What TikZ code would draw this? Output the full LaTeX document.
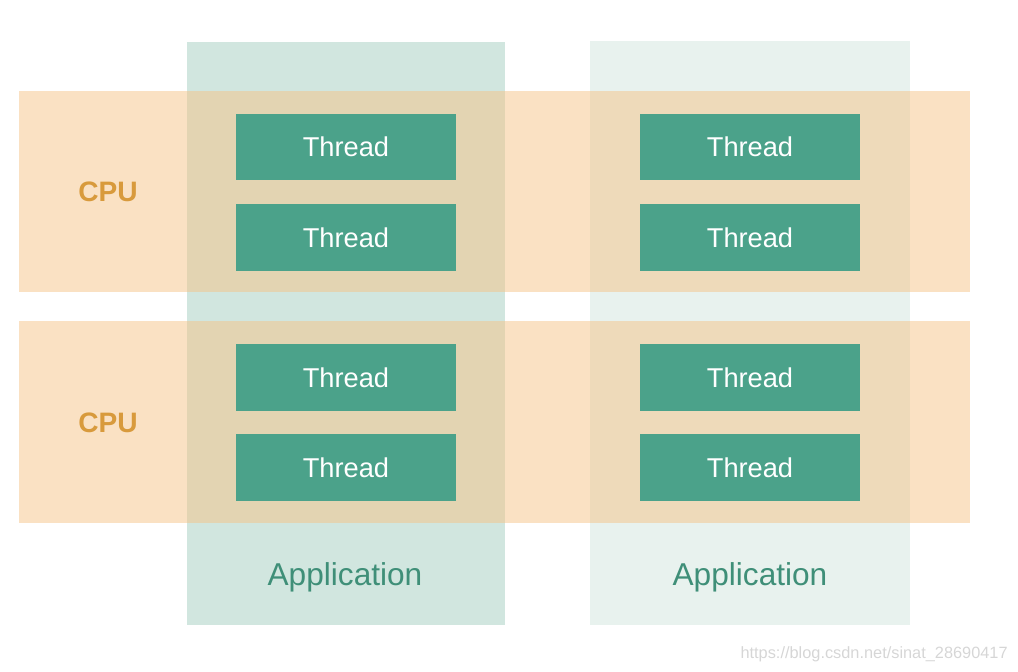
\documentclass[tikz,border=0pt]{standalone}
\usepackage{fontspec}
\setmainfont{Liberation Sans}
\definecolor{appA}{HTML}{D1E6DF}
\definecolor{appB}{HTML}{E8F2EE}
\definecolor{cpufill}{RGB}{245,195,135}
\definecolor{cputext}{HTML}{D89A3C}
\definecolor{threadfill}{HTML}{4BA28A}
\definecolor{apptext}{HTML}{3F8F78}
\tikzset{
  thread/.style={fill=threadfill,text=white,minimum width=4.4cm,minimum height=1.34cm,
    inner sep=0pt,font=\fontsize{15.5}{18}\selectfont},
  cpulabel/.style={text=cputext,font=\fontsize{16}{18}\selectfont\bfseries},
  applabel/.style={text=apptext,font=\fontsize{18}{20}\selectfont}
}

\begin{document}
\begin{tikzpicture}[x=0.02cm,y=-0.02cm]
      \useasboundingbox (0,0) rectangle (1018,672);
      \fill[appA] (187,42) rectangle (505,625);
      \fill[appB] (590,41) rectangle (910,625);
      \fill[cpufill,fill opacity=.5] (19,91) rectangle (970,292);
      \fill[cpufill,fill opacity=.5] (19,321) rectangle (970,523);
      \node[cpulabel] (cpu1) at (108,192) {CPU};
      \node[cpulabel] (cpu2) at (108,423) {CPU};
      \node[thread] (t11) at (346,147) {Thread};
      \node[thread] (t12) at (346,237.5) {Thread};
      \node[thread] (t13) at (346,377.5) {Thread};
      \node[thread] (t14) at (346,467.5) {Thread};
      \node[thread] (t21) at (750,147) {Thread};
      \node[thread] (t22) at (750,237.5) {Thread};
      \node[thread] (t23) at (750,377.5) {Thread};
      \node[thread] (t24) at (750,467.5) {Thread};
      \node[applabel] (app1) at (345,577) {Application};
      \node[applabel] (app2) at (750,577) {Application};
      \node[text=black!16,font=\fontsize{9.3}{11}\selectfont,anchor=east,inner sep=0pt] (mark) at (1008,654) {https://blog.csdn.net/sinat\_28690417};
    \end{tikzpicture}
\end{document}
